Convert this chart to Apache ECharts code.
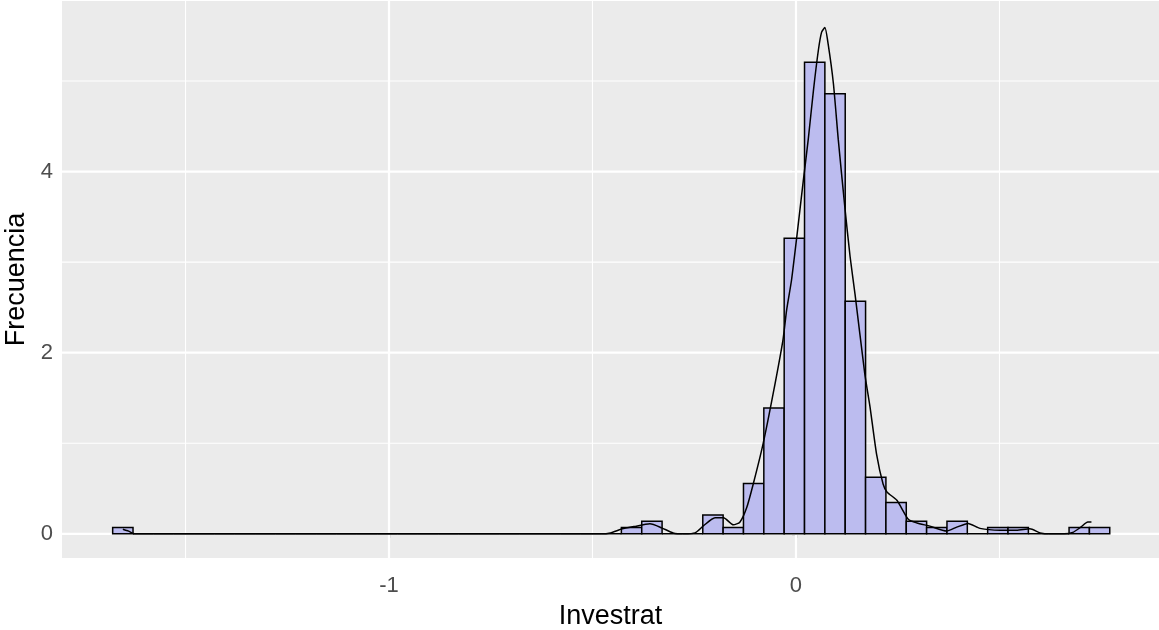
<!DOCTYPE html>
<html>
<head>
<meta charset="utf-8">
<script src="https://cdn.jsdelivr.net/npm/echarts@6/dist/echarts.min.js"></script>
<style>
html,body{margin:0;padding:0;background:#fff;}
#chart{width:1159px;height:630px;}
</style>
</head>
<body>
<div id="chart"></div>
<script>
// ---- data ----
const binEdges = [-1.679,-1.629,-1.579,-1.529,-1.479,-1.429,-1.379,-1.329,-1.279,-1.229,
  -1.179,-1.129,-1.079,-1.029,-0.979,-0.929,-0.879,-0.829,-0.779,-0.729,
  -0.679,-0.629,-0.579,-0.529,-0.479,-0.429,-0.379,-0.329,-0.279,-0.229,
  -0.179,-0.129,-0.079,-0.029,0.021,0.071,0.121,0.171,0.221,0.271,
  0.321,0.371,0.421,0.471,0.521,0.571,0.621,0.671,0.721,0.771];
const binDensity = [0.069,0,0,0,0,0,0,0,0,0,
  0,0,0,0,0,0,0,0,0,0,
  0,0,0,0,0,0.069,0.139,0,0,0.208,
  0.069,0.556,1.389,3.264,5.208,4.861,2.569,0.625,0.347,0.139,
  0.069,0.139,0,0.069,0.069,0,0,0.069,0.069];
const densX = [-1.654,-1.64,-1.625,-0.48,-0.456,-0.427,-0.398,-0.359,-0.330,-0.302,
  -0.275,-0.248,-0.227,-0.199,-0.178,-0.154,-0.138,-0.121,-0.105,-0.081,
  -0.056,-0.032,-0.023,-0.011,0.002,0.018,0.030,0.043,0.055,0.063,
  0.071,0.079,0.092,0.104,0.120,0.133,0.145,0.169,0.182,0.198,
  0.214,0.224,0.248,0.276,0.297,0.329,0.370,0.395,0.423,0.452,
  0.501,0.542,0.575,0.600,0.626,0.659,0.680,0.700,0.717,0.726];
const densY = [0.05,0.03,0,0,0.01,0.055,0.08,0.11,0.066,0.01,
  0,0.01,0.09,0.177,0.177,0.10,0.128,0.29,0.55,0.99,
  1.55,2.14,2.47,2.80,3.28,3.90,4.35,4.90,5.34,5.54,
  5.59,5.41,4.97,4.35,3.61,3.06,2.65,1.77,1.40,0.88,
  0.55,0.46,0.37,0.16,0.12,0.085,0.03,0.074,0.115,0.06,
  0.04,0.04,0.055,0.01,0,0,0.015,0.074,0.13,0.13];
const xMajor = [-1, 0];
const xMinor = [-1.5, -0.5, 0.5];
const yMajor = [0, 2, 4];
const yMinor = [1, 3, 5];
const xTitle = 'Investrat';
const yTitle = 'Frecuencia';

const X_MIN = -1.8035, X_MAX = 0.892;
const Y_MIN = -0.267, Y_MAX = 5.884;
const FONT = "'Liberation Sans', Arial, sans-serif";

const chart = echarts.init(document.getElementById('chart'), null, {renderer: 'canvas'});

function vLines(vals, w) {
  return {
    type: 'custom', silent: true, z: 1, clip: false,
    data: vals.map(v => [v, 0]),
    renderItem: (params, api) => {
      const p = api.coord([api.value(0), 0]);
      const cs = params.coordSys;
      return {type: 'line', shape: {x1: p[0], y1: cs.y, x2: p[0], y2: cs.y + cs.height},
        style: {stroke: '#FFFFFF', lineWidth: w}};
    }
  };
}
function hLines(vals, w) {
  return {
    type: 'custom', silent: true, z: 1, clip: false,
    data: vals.map(v => [0, v]),
    renderItem: (params, api) => {
      const p = api.coord([0, api.value(1)]);
      const cs = params.coordSys;
      return {type: 'line', shape: {x1: cs.x, y1: p[1], x2: cs.x + cs.width, y2: p[1]},
        style: {stroke: '#FFFFFF', lineWidth: w}};
    }
  };
}

const option = {
  animation: false,
  grid: {left: 62, right: 0, top: 1, bottom: 72, show: true, backgroundColor: '#EBEBEB', borderWidth: 0,
    containLabel: false, outerBoundsMode: 'none'},
  xAxis: {
    type: 'value', min: X_MIN, max: X_MAX,
    name: xTitle, nameLocation: 'middle', nameGap: 45,
    nameTextStyle: {fontFamily: FONT, fontSize: 27, color: '#000'},
    axisLine: {show: false},
    splitLine: {show: false},
    axisTick: {show: true, customValues: xMajor, length: 4, lineStyle: {color: '#333333', width: 1.2}},
    axisLabel: {customValues: xMajor, margin: 17, fontFamily: FONT, fontSize: 22, color: '#4D4D4D',
      formatter: v => String(v)}
  },
  yAxis: {
    type: 'value', min: Y_MIN, max: Y_MAX,
    name: yTitle, nameLocation: 'middle', nameGap: 32, nameRotate: 90,
    nameTextStyle: {fontFamily: FONT, fontSize: 27, color: '#000'},
    axisLine: {show: false},
    splitLine: {show: false},
    axisTick: {show: true, customValues: yMajor, length: 4, lineStyle: {color: '#333333', width: 1.2}},
    axisLabel: {customValues: yMajor, margin: 9, fontFamily: FONT, fontSize: 22, color: '#4D4D4D',
      formatter: v => String(v)}
  },
  series: [
    vLines(xMinor, 1.1), hLines(yMinor, 1.1),
    vLines(xMajor, 2.2), hLines(yMajor, 2.2),
    {
      type: 'custom', z: 3,
      encode: {x: [0, 1], y: 2},
      data: binDensity.map((d, i) => [binEdges[i], binEdges[i + 1], d]),
      renderItem: (params, api) => {
        const p0 = api.coord([api.value(0), api.value(2)]);
        const p1 = api.coord([api.value(1), 0]);
        return {type: 'rect', shape: {x: p0[0], y: p0[1], width: p1[0] - p0[0], height: p1[1] - p0[1]},
          style: {fill: '#BCBCEF', stroke: '#000000', lineWidth: 1.5}};
      }
    },
    {
      type: 'line', z: 4,
      data: densX.map((x, i) => [x, densY[i]]),
      showSymbol: false, symbol: 'none',
      smooth: 0.2,
      lineStyle: {color: '#000000', width: 1.5}
    }
  ]
};
chart.setOption(option);
</script>
</body>
</html>
